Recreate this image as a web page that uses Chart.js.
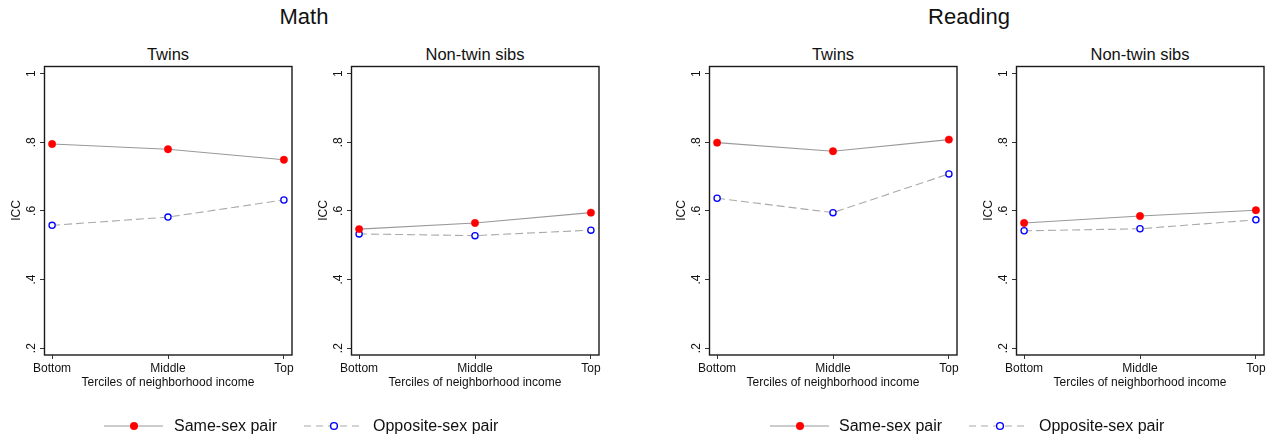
<!DOCTYPE html>
<html>
<head>
<meta charset="utf-8">
<script src="https://cdn.jsdelivr.net/npm/chart.js@4/dist/chart.umd.min.js"></script>
<style>
  html, body { margin: 0; padding: 0; background: #fff; }
  #wrap { position: relative; width: 1278px; height: 440px; overflow: hidden; font-family: "Liberation Sans", Arial, sans-serif; color: #111; }
  canvas { position: absolute; }
  .title { position: absolute; font-size: 22px; line-height: 26px; white-space: nowrap; transform: translateX(-50%); }
  .sub { position: absolute; font-size: 16.5px; line-height: 20px; white-space: nowrap; transform: translateX(-50%); }
  .leg { position: absolute; font-size: 16px; line-height: 20px; white-space: nowrap; }
  svg { position: absolute; left: 0; top: 0; }
</style>
</head>
<body>
<div id="wrap">
  <div class="title" style="left:304px; top:4px;">Math</div>
  <div class="title" style="left:969px; top:4px;">Reading</div>
  <div class="sub" style="left:168px; top:44px;">Twins</div>
  <div class="sub" style="left:475px; top:44px;">Non-twin sibs</div>
  <div class="sub" style="left:833px; top:44px;">Twins</div>
  <div class="sub" style="left:1140px; top:44px;">Non-twin sibs</div>
  <canvas id="c1" width="300" height="330" style="left:0px; top:60px;"></canvas>
  <canvas id="c2" width="300" height="330" style="left:307px; top:60px;"></canvas>
  <canvas id="c3" width="300" height="330" style="left:665px; top:60px;"></canvas>
  <canvas id="c4" width="300" height="330" style="left:972px; top:60px;"></canvas>
  <svg width="1278" height="440">
    <g id="legMath">
      <line x1="104" y1="426" x2="163" y2="426" stroke="#999" stroke-width="1.2"/>
      <circle cx="134" cy="426" r="4" fill="#ff0000"/>
      <line x1="304" y1="426" x2="363" y2="426" stroke="#aaa" stroke-width="1.2" stroke-dasharray="7,5"/>
      <circle cx="334" cy="426" r="3.4" fill="#fff" stroke="#0000ff" stroke-width="1.4"/>
    </g>
    <g id="legRead">
      <line x1="770" y1="426" x2="829" y2="426" stroke="#999" stroke-width="1.2"/>
      <circle cx="800" cy="426" r="4" fill="#ff0000"/>
      <line x1="969" y1="426" x2="1027" y2="426" stroke="#aaa" stroke-width="1.2" stroke-dasharray="7,5"/>
      <circle cx="1000" cy="426" r="3.4" fill="#fff" stroke="#0000ff" stroke-width="1.4"/>
    </g>
  </svg>
  <div class="leg" style="left:174px; top:416px;">Same-sex pair</div>
  <div class="leg" style="left:373px; top:416px;">Opposite-sex pair</div>
  <div class="leg" style="left:839px; top:416px;">Same-sex pair</div>
  <div class="leg" style="left:1039px; top:416px;">Opposite-sex pair</div>
</div>
<script>
const categories = ['Bottom', 'Middle', 'Top'];
const yTickValues = [0.2, 0.4, 0.6, 0.8, 1];
const yTickLabels = ['.2', '.4', '.6', '.8', '1'];
const seriesNames = ['Same-sex pair', 'Opposite-sex pair'];

const mathTwinsSame = [0.795, 0.780, 0.749];
const mathTwinsOpp  = [0.558, 0.582, 0.632];
const mathSibsSame  = [0.547, 0.565, 0.595];
const mathSibsOpp   = [0.533, 0.528, 0.544];
const readTwinsSame = [0.799, 0.774, 0.808];
const readTwinsOpp  = [0.637, 0.595, 0.708];
const readSibsSame  = [0.565, 0.585, 0.602];
const readSibsOpp   = [0.542, 0.548, 0.574];

const FONT = '"Liberation Sans", Arial, sans-serif';
Chart.defaults.font.family = FONT;
Chart.defaults.color = '#111';

const boxPlugin = {
  id: 'plotBox',
  afterDraw(chart) {
    const a = chart.chartArea;
    const ctx = chart.ctx;
    ctx.save();
    ctx.strokeStyle = '#1a1a1a';
    ctx.lineWidth = 1.4;
    ctx.strokeRect(Math.round(a.left) + 0.5, Math.round(a.top) + 0.5,
                   Math.round(a.right - a.left) - 0.5, Math.round(a.bottom - a.top) - 0.5);
    ctx.restore();
  }
};

function toPoints(vals) { return vals.map((v, i) => ({ x: i, y: v })); }

function makeChart(id, same, opp) {
  return new Chart(document.getElementById(id), {
    type: 'line',
    data: {
      datasets: [
        {
          label: seriesNames[0],
          data: toPoints(same),
          borderColor: '#999999',
          borderWidth: 1.1,
          pointRadius: 3.7,
          pointBackgroundColor: '#ff0000',
          pointBorderColor: '#ff0000',
          pointBorderWidth: 0.5,
          tension: 0,
          order: 1
        },
        {
          label: seriesNames[1],
          data: toPoints(opp),
          borderColor: '#aaaaaa',
          borderWidth: 1.1,
          borderDash: [8, 4],
          pointRadius: 3.1,
          pointBackgroundColor: '#ffffff',
          pointBorderColor: '#0000ff',
          pointBorderWidth: 1.3,
          tension: 0,
          order: 2
        }
      ]
    },
    options: {
      responsive: false,
      animation: false,
      devicePixelRatio: 1,
      layout: { padding: { left: 0, right: 8, top: 6, bottom: 0 } },
      plugins: { legend: { display: false }, tooltip: { enabled: false }, title: { display: false } },
      scales: {
        x: {
          type: 'linear',
          min: -0.07,
          max: 2.07,
          afterBuildTicks: s => { s.ticks = categories.map((c, i) => ({ value: i })); },
          afterFit: s => { s.height = 35; s.paddingLeft = 0; s.paddingRight = 0; },
          ticks: {
            callback: v => categories[v],
            font: { size: 12 },
            color: '#111',
            padding: 2,
            maxRotation: 0,
            minRotation: 0
          },
          grid: { display: true, drawOnChartArea: false, drawTicks: true, tickLength: 4, color: '#333', lineWidth: 1 },
          border: { display: false },
          title: { display: true, text: 'Terciles of neighborhood income', font: { size: 12 }, color: '#111', padding: { top: 0, bottom: 0 } }
        },
        y: {
          type: 'linear',
          min: 0.18,
          max: 1.0225,
          afterBuildTicks: s => { s.ticks = yTickValues.map(v => ({ value: v })); },
          afterFit: s => { s.width = 44; s.paddingTop = 0; s.paddingBottom = 0; },
          ticks: {
            callback: v => yTickLabels[yTickValues.findIndex(t => Math.abs(t - v) < 1e-9)],
            font: { size: 12 },
            color: '#111',
            padding: 3,
            minRotation: 90,
            maxRotation: 90,
            crossAlign: 'center'
          },
          grid: { display: true, drawOnChartArea: false, drawTicks: true, tickLength: 4, color: '#333', lineWidth: 1 },
          border: { display: false },
          title: { display: true, text: 'ICC', font: { size: 12 }, color: '#111', padding: 9 }
        }
      }
    },
    plugins: [boxPlugin]
  });
}

makeChart('c1', mathTwinsSame, mathTwinsOpp);
makeChart('c2', mathSibsSame, mathSibsOpp);
makeChart('c3', readTwinsSame, readTwinsOpp);
makeChart('c4', readSibsSame, readSibsOpp);
</script>
</body>
</html>
